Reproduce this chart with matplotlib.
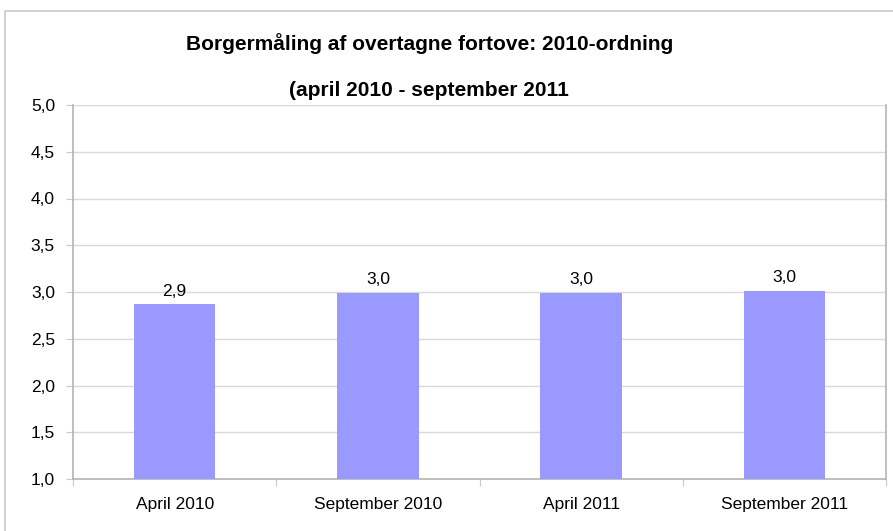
import matplotlib
matplotlib.use("Agg")
import matplotlib.pyplot as plt
from matplotlib.patches import Rectangle
from matplotlib.ticker import FuncFormatter, FixedLocator
import numpy as np

plt.rcParams['font.family'] = ['Liberation Sans', 'DejaVu Sans']

categories = ["April 2010", "September 2010", "April 2011", "September 2011"]
values = [2.87, 2.99, 2.99, 3.01]
yticks = [1.0, 1.5, 2.0, 2.5, 3.0, 3.5, 4.0, 4.5, 5.0]
title1 = "Borgermåling af overtagne fortove: 2010-ordning"
title2 = "(april 2010 - september 2011"

W, H = 893, 531
fig = plt.figure(figsize=(W / 100, H / 100), dpi=100)

# outer chart frame
fig.patches.append(Rectangle((5 / W, -0.1), 1.2, (H - 11) / H + 0.1,
                             transform=fig.transFigure, fill=False,
                             edgecolor="#c8c8c8", linewidth=1.2))

ax = fig.add_axes([73 / W, 1 - 479 / H, (886 - 73) / W, (479 - 105) / H])
x = np.arange(len(categories))
ax.bar(x, values, width=0.4, color="#9999FF", zorder=3, bottom=0)
ax.set_xlim(-0.5, len(categories) - 0.5)
ax.set_ylim(1.0, 5.0)
ax.yaxis.set_major_locator(FixedLocator(yticks))
ax.yaxis.set_major_formatter(FuncFormatter(lambda v, p: f"{v:.1f}".replace(".", ",")))
ax.grid(axis="y", color="#d9d9d9", linewidth=1.0, zorder=0)

for xi, v in zip(x, values):
    ax.text(xi, v + 0.06, f"{v:.1f}".replace(".", ","), ha="center", va="bottom",
            fontsize=12.5, color="black")

# category labels at centers, tick marks at boundaries
ax.set_xticks(np.arange(len(categories) + 1) - 0.5)
ax.set_xticklabels([])
ax.set_xticks(x, minor=True)
ax.set_xticklabels(categories, minor=True, fontsize=12.5)
ax.tick_params(axis="x", which="major", length=5, color="#c8c8c8", direction="out")
ax.tick_params(axis="x", which="minor", length=0, pad=13)
ax.tick_params(axis="y", length=5, color="#c8c8c8", labelsize=12.5, pad=8)

for s in ["left", "bottom", "right"]:
    ax.spines[s].set_color("#b4b4b4")
    ax.spines[s].set_linewidth(1.2)
ax.spines["top"].set_visible(False)

fig.text(430 / W, 1 - 44 / H, title1, ha="center", va="center",
         fontsize=15, fontweight="bold")
fig.text(429 / W, 1 - 91 / H, title2, ha="center", va="center",
         fontsize=15, fontweight="bold")

fig.savefig("out.png", dpi=100)
